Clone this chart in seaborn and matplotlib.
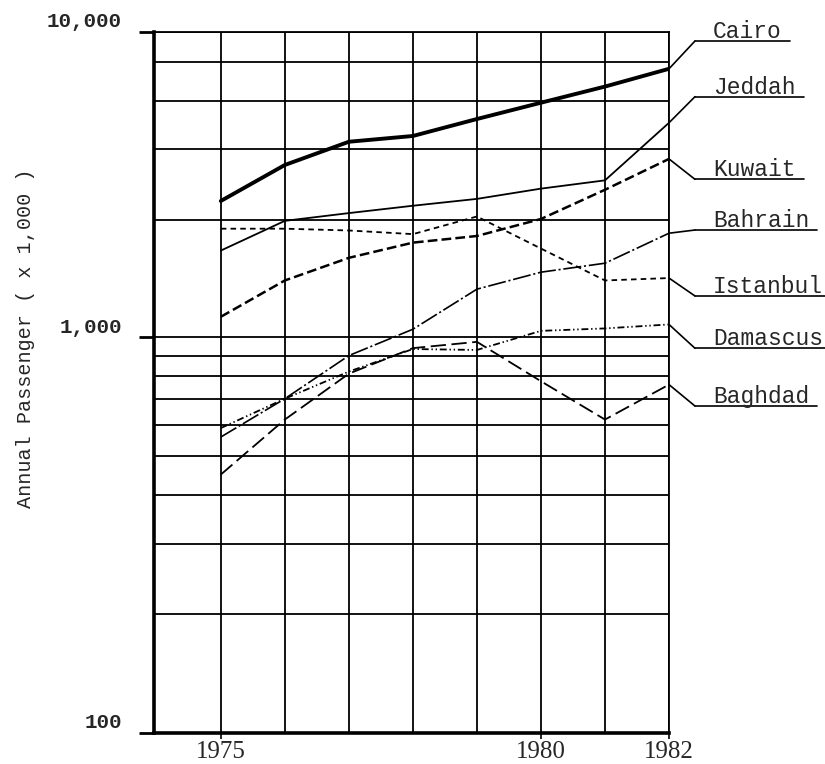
import numpy as np
import pandas as pd
import matplotlib
matplotlib.use("Agg")
import matplotlib.pyplot as plt
import matplotlib.transforms as mtrans
from matplotlib.patches import ConnectionPatch
from matplotlib.ticker import FixedLocator, FixedFormatter, NullFormatter
import seaborn as sns

# ---------------- data ----------------
years = [1975, 1976, 1977, 1978, 1979, 1980, 1981, 1982]
cities = ["Cairo", "Jeddah", "Kuwait", "Bahrain", "Istanbul", "Damascus", "Baghdad"]
cairo = [2410, 3430, 4260, 4470, 5150, 5900, 6670, 7620]
jeddah = [1670, 1990, 2140, 2300, 2460, 2720, 2950, 4990]
kuwait = [1130, 1400, 1600, 1750, 1820, 2020, 2690, 3640]
bahrain = [560, 700, 900, 1050, 1330, 1470, 1550, 1850]
istanbul = [1900, 1900, 1880, 1840, 2070, 1690, 1400, 1420]
damascus = [590, 700, 820, 935, 930, 1040, 1055, 1080]
baghdad = [450, 620, 810, 940, 975, 775, 620, 760]

x_tick_years = [1975, 1980, 1982]
x_grid_years = [1976, 1977, 1978, 1979, 1981]
y_major = [100, 1000, 10000]
y_major_labels = ["100", "1,000", "10,000"]
y_minor = [200, 300, 400, 500, 600, 700, 800, 900, 2000, 4000, 6000, 8000]

# the reference is drawn on hand-ruled semi-log paper whose upper decade is
# compressed: gridline value -> relative height of that gridline
scale_values = [100, 1000, 2000, 4000, 6000, 8000, 10000]
scale_heights = [0.0, 395.2, 512.7, 583.4, 632.0, 670.4, 701.0]

# label layout (axes fraction heights of the underlined names)
label_y = [0.9867, 0.9073, 0.7894, 0.7171, 0.6230, 0.5484, 0.4660]

series = [cairo, jeddah, kuwait, bahrain, istanbul, damascus, baghdad]
df = pd.DataFrame({
    "year": np.tile(years, len(cities)),
    "value": np.concatenate([np.asarray(s, float) for s in series]),
    "city": np.repeat(cities, len(years)),
})

# ---------------- custom axis scale ----------------
logk = np.log10(scale_values)
hk = np.asarray(scale_heights)


def _pw(x, xp, fp):
    x = np.asarray(x, float)
    y = np.interp(x, xp, fp)
    lo_s = (fp[1] - fp[0]) / (xp[1] - xp[0])
    hi_s = (fp[-1] - fp[-2]) / (xp[-1] - xp[-2])
    y = np.where(x < xp[0], fp[0] + (x - xp[0]) * lo_s, y)
    y = np.where(x > xp[-1], fp[-1] + (x - xp[-1]) * hi_s, y)
    return y


def forward(v):
    v = np.asarray(v, float)
    return _pw(np.log10(np.clip(v, 1e-9, None)), logk, hk)


def inverse(h):
    return 10 ** _pw(h, hk, logk)


# ---------------- styling ----------------
sns.set_style("white")
plt.rcParams["font.family"] = ["Liberation Mono", "DejaVu Sans"]
plt.rcParams["lines.scale_dashes"] = False

fig = plt.figure(figsize=(8.25, 7.64), dpi=100)
ax = fig.add_axes([0.18618, 0.04097, 0.62473, 0.91754])
ax.set_yscale("function", functions=(forward, inverse))

palette = {c: "black" for c in cities}
dashes = {
    "Cairo": "",
    "Jeddah": "",
    "Kuwait": (7, 3),
    "Bahrain": (13, 2, 1.5, 2),
    "Istanbul": (4, 3),
    "Damascus": (5, 2, 1, 2, 1, 2),
    "Baghdad": (11, 4),
}
sizes = {
    "Cairo": 2.8,
    "Jeddah": 1.3,
    "Kuwait": 1.8,
    "Bahrain": 1.2,
    "Istanbul": 1.3,
    "Damascus": 1.3,
    "Baghdad": 1.3,
}

sns.lineplot(
    data=df, x="year", y="value", hue="city", style="city", size="city",
    palette=palette, dashes=dashes, sizes=sizes,
    hue_order=cities, style_order=cities, size_order=cities,
    legend=False, ax=ax, zorder=3,
)

ax.set_xlim(1973.95, 1982)
ax.set_ylim(100, 10000)

ax.xaxis.set_major_locator(FixedLocator(x_tick_years))
ax.xaxis.set_major_formatter(FixedFormatter([str(y) for y in x_tick_years]))
ax.xaxis.set_minor_locator(FixedLocator(x_grid_years))
ax.xaxis.set_minor_formatter(NullFormatter())
ax.yaxis.set_major_locator(FixedLocator(y_major))
ax.yaxis.set_major_formatter(FixedFormatter(y_major_labels))
ax.yaxis.set_minor_locator(FixedLocator(y_minor))
ax.yaxis.set_minor_formatter(NullFormatter())

ax.grid(True, which="both", axis="both", color="black", linewidth=1.3)
ax.set_axisbelow(True)

ax.tick_params(axis="y", which="major", direction="out", length=11, width=2,
               color="black", pad=12, left=True)
ax.tick_params(axis="x", which="major", direction="out", length=4, width=1.2,
               color="black", pad=2, bottom=True)
ax.tick_params(which="minor", length=0)

for lab in ax.get_yticklabels():
    lab.set_fontfamily(["Liberation Mono", "DejaVu Sans"])
    lab.set_fontsize(15)
    lab.set_fontweight("bold")
    lab.set_transform(lab.get_transform() +
                      mtrans.ScaledTranslation(0, 12 / 100, fig.dpi_scale_trans))
for lab in ax.get_xticklabels():
    lab.set_fontfamily(["Liberation Serif", "DejaVu Serif"])
    lab.set_fontsize(18)

for side in ["left", "bottom"]:
    ax.spines[side].set_linewidth(2.6)
    ax.spines[side].set_color("black")
for side in ["top", "right"]:
    ax.spines[side].set_linewidth(1.3)
    ax.spines[side].set_color("black")

ax.set_xlabel("")
ax.set_ylabel("Annual Passenger ( x 1,000 )", fontsize=14.5,
              fontfamily=["Liberation Mono", "DejaVu Sans"], va="center")
ax.yaxis.set_label_coords(-0.2495, 0.563)

# ---------------- underlined city names with leader lines ----------------
elbow_x = 1.0504
text_x = 1.0854
texts = []
for city, s, yf in zip(cities, series, label_y):
    con = ConnectionPatch(xyA=(years[-1], s[-1]), coordsA="data",
                          xyB=(elbow_x, yf), coordsB="axes fraction",
                          axesA=ax, axesB=ax, color="black", linewidth=1.2)
    con.set_clip_on(False)
    ax.add_artist(con)
    t = ax.text(text_x, yf + 0.0045, city, transform=ax.transAxes,
                fontsize=16.5, ha="left", va="baseline",
                fontfamily=["Liberation Mono", "DejaVu Sans"], clip_on=False)
    texts.append((t, yf))

fig.canvas.draw()
renderer = fig.canvas.get_renderer()
inv = ax.transAxes.inverted()
for t, yf in texts:
    bb = t.get_window_extent(renderer)
    x_end = inv.transform((min(bb.x1 + 8, fig.bbox.x1), bb.y0))[0]
    ax.plot([elbow_x, x_end], [yf, yf], transform=ax.transAxes,
            color="black", linewidth=1.2, clip_on=False)

fig.savefig("out.png", dpi=100)
